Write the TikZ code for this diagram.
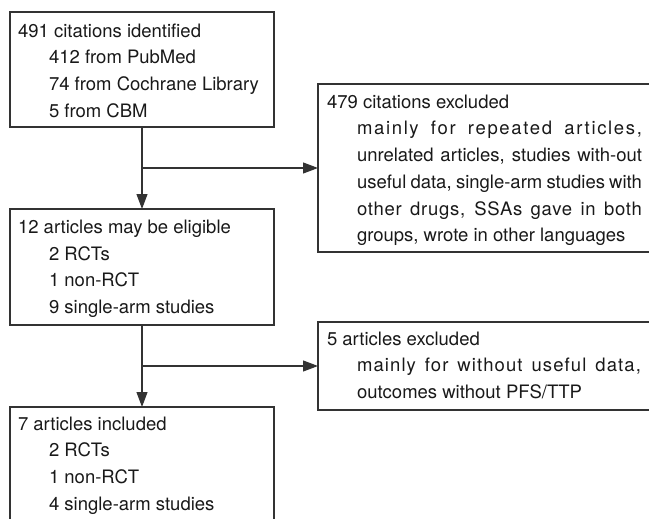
\documentclass[tikz,border=0pt]{standalone}
\usepackage{fontspec}
\setmainfont{TeX Gyre Heros}
\usetikzlibrary{arrows.meta,calc}
\newcommand\diagfont{\fontsize{18.5}{26.7}\selectfont}
\newcommand\spreadline[2]{\makebox[285pt][s]{\addfontfeature{LetterSpace=#1}#2}}
\begin{document}
\begin{tikzpicture}[x=1pt,y=-1pt,
  boxnode/.style={draw=black!80, line width=1.1pt, inner sep=0pt, outer sep=0pt, anchor=north west},
  txt/.style={anchor=base west, inner sep=0pt, outer sep=0pt, font=\diagfont, text=black!90},
  arr/.style={draw=black!80, line width=1.1pt, -{Triangle[length=15pt,width=11pt]}}]
\useasboundingbox (0,0) rectangle (649,519);
\clip (0,0) rectangle (649,519);
% boxes
\node[boxnode, minimum width=264pt, minimum height=115pt] (b1) at (10,12) {};
\node[boxnode, minimum width=264pt, minimum height=116pt] (b2) at (10,209) {};
\node[boxnode, minimum width=264pt, minimum height=140pt] (b3) at (10,407) {};
\node[boxnode, minimum width=360pt, minimum height=168pt] (r1) at (318,84) {};
\node[boxnode, minimum width=360pt, minimum height=88pt] (r2) at (318,322) {};
% texts box 1
\node[txt] (t11) at (18,37.3) {491 citations identified};
\node[txt] (t12) at (49,64) {412 from PubMed};
\node[txt] (t13) at (49,90.7) {74 from Cochrane Library};
\node[txt] (t14) at (49,117.3) {5 from CBM};
% texts box 2
\node[txt] (t21) at (18,233.3) {12 articles may be eligible};
\node[txt] (t22) at (49,260) {2 RCTs};
\node[txt] (t23) at (49,286.7) {1 non-RCT};
\node[txt] (t24) at (49,313.3) {9 single-arm studies};
% texts box 3
\node[txt] (t31) at (18,430) {7 articles included};
\node[txt] (t32) at (49,456.7) {2 RCTs};
\node[txt] (t33) at (49,483.3) {1 non-RCT};
\node[txt] (t34) at (49,510) {4 single-arm studies};
% texts right box 1
\node[txt] (s11) at (327,108.3) {479 citations excluded};
\node[txt] (s12) at (357,135) {\spreadline{9}{mainly for repeated articles,}};
\node[txt] (s13) at (357,161.7) {\spreadline{0}{unrelated articles, studies with-out}};
\node[txt] (s14) at (357,188.3) {\spreadline{0}{useful data, single-arm studies with}};
\node[txt] (s15) at (357,215) {\spreadline{4}{other drugs, SSAs gave in both}};
\node[txt] (s16) at (357,241.7) {groups, wrote in other languages};
% texts right box 2
\node[txt] (s21) at (327,345) {5 articles excluded};
\node[txt] (s22) at (357,371.7) {\makebox[284pt][s]{\addfontfeature{LetterSpace=6}mainly for without useful data,}};
\node[txt] (s23) at (357,398.3) {outcomes without PFS/TTP};
% connectors
\draw[arr] (b1.south) -- (b2.north);
\coordinate (j1) at ($(b1.south)!0.5!(b2.north)$);
\draw[arr] (j1) -- (j1 -| r1.west);
\draw[arr] (b2.south) -- (b3.north);
\coordinate (j2) at ($(b2.south)!0.5!(b3.north)$);
\draw[arr] (j2) -- (j2 -| r2.west);
\end{tikzpicture}
\end{document}
